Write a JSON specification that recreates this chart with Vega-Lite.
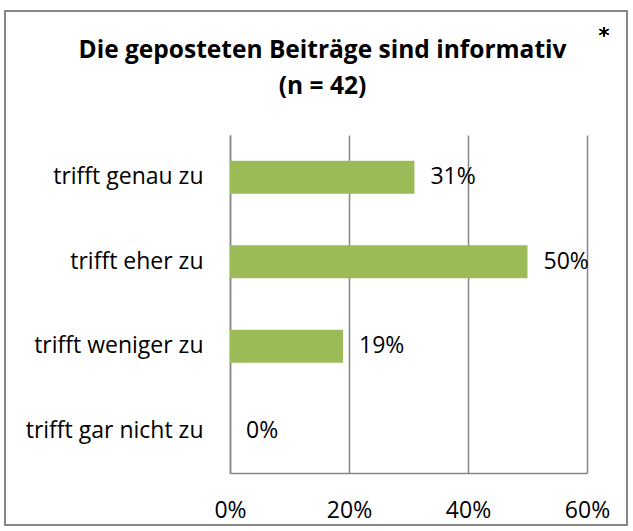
{
  "$schema": "https://vega.github.io/schema/vega-lite/v6.json",
  "width": 357,
  "height": 338,
  "autosize": {"type": "none"},
  "padding": {"left": 230, "top": 135, "right": 46, "bottom": 58},
  "background": "white",
  "title": {
    "text": ["Die geposteten Beiträge sind informativ", "(n = 42)"],
    "font": "Open Sans",
    "fontSize": 24.5,
    "fontWeight": "bold",
    "color": "black",
    "anchor": "middle",
    "frame": "group",
    "dx": -86,
    "offset": -89,
    "lineHeight": 36
  },
  "config": {
    "view": {"stroke": null},
    "font": "Open Sans"
  },
  "data": {
    "values": [
      {"kategorie": "trifft genau zu", "anteil": 0.31, "label": "31%"},
      {"kategorie": "trifft eher zu", "anteil": 0.50, "label": "50%"},
      {"kategorie": "trifft weniger zu", "anteil": 0.19, "label": "19%"},
      {"kategorie": "trifft gar nicht zu", "anteil": 0.0, "label": "0%"}
    ]
  },
  "encoding": {
    "y": {
      "field": "kategorie",
      "type": "nominal",
      "sort": null,
      "scale": {"paddingInner": 0.61, "paddingOuter": 0.305},
      "axis": {
        "title": null,
        "ticks": false,
        "domain": true,
        "domainColor": "#868686",
        "domainWidth": 1.5,
        "labelFont": "Open Sans",
        "labelFontSize": 23,
        "labelColor": "black",
        "labelPadding": 27,
        "grid": false
      }
    },
    "x": {
      "field": "anteil",
      "type": "quantitative",
      "scale": {"domain": [0, 0.6], "nice": false},
      "axis": {
        "title": null,
        "format": ".0%",
        "values": [0, 0.2, 0.4, 0.6],
        "ticks": false,
        "domain": true,
        "domainColor": "#868686",
        "domainWidth": 1.5,
        "grid": true,
        "gridColor": "#868686",
        "gridWidth": 1.5,
        "labelFont": "Open Sans",
        "labelFontSize": 23,
        "labelColor": "black",
        "labelPadding": 26,
        "labelFlush": false
      }
    }
  },
  "layer": [
    {"mark": {"type": "bar", "color": "#9BBB59"}},
    {
      "mark": {"type": "text", "align": "left", "baseline": "middle", "dx": 16, "fontSize": 23, "font": "Open Sans", "color": "black"},
      "encoding": {"text": {"field": "label"}}
    },
    {
      "mark": {"type": "text", "text": "*", "fontSize": 22, "fontWeight": "normal", "font": "DejaVu Sans", "color": "black", "align": "center", "baseline": "middle"},
      "encoding": {"x": {"value": 374}, "y": {"value": -99}}
    },
    {
      "mark": {"type": "rect", "fill": null, "stroke": "#868686", "strokeWidth": 1.5},
      "encoding": {"x": {"value": -225}, "x2": {"value": 397}, "y": {"value": -124}, "y2": {"value": 390}}
    }
  ]
}
